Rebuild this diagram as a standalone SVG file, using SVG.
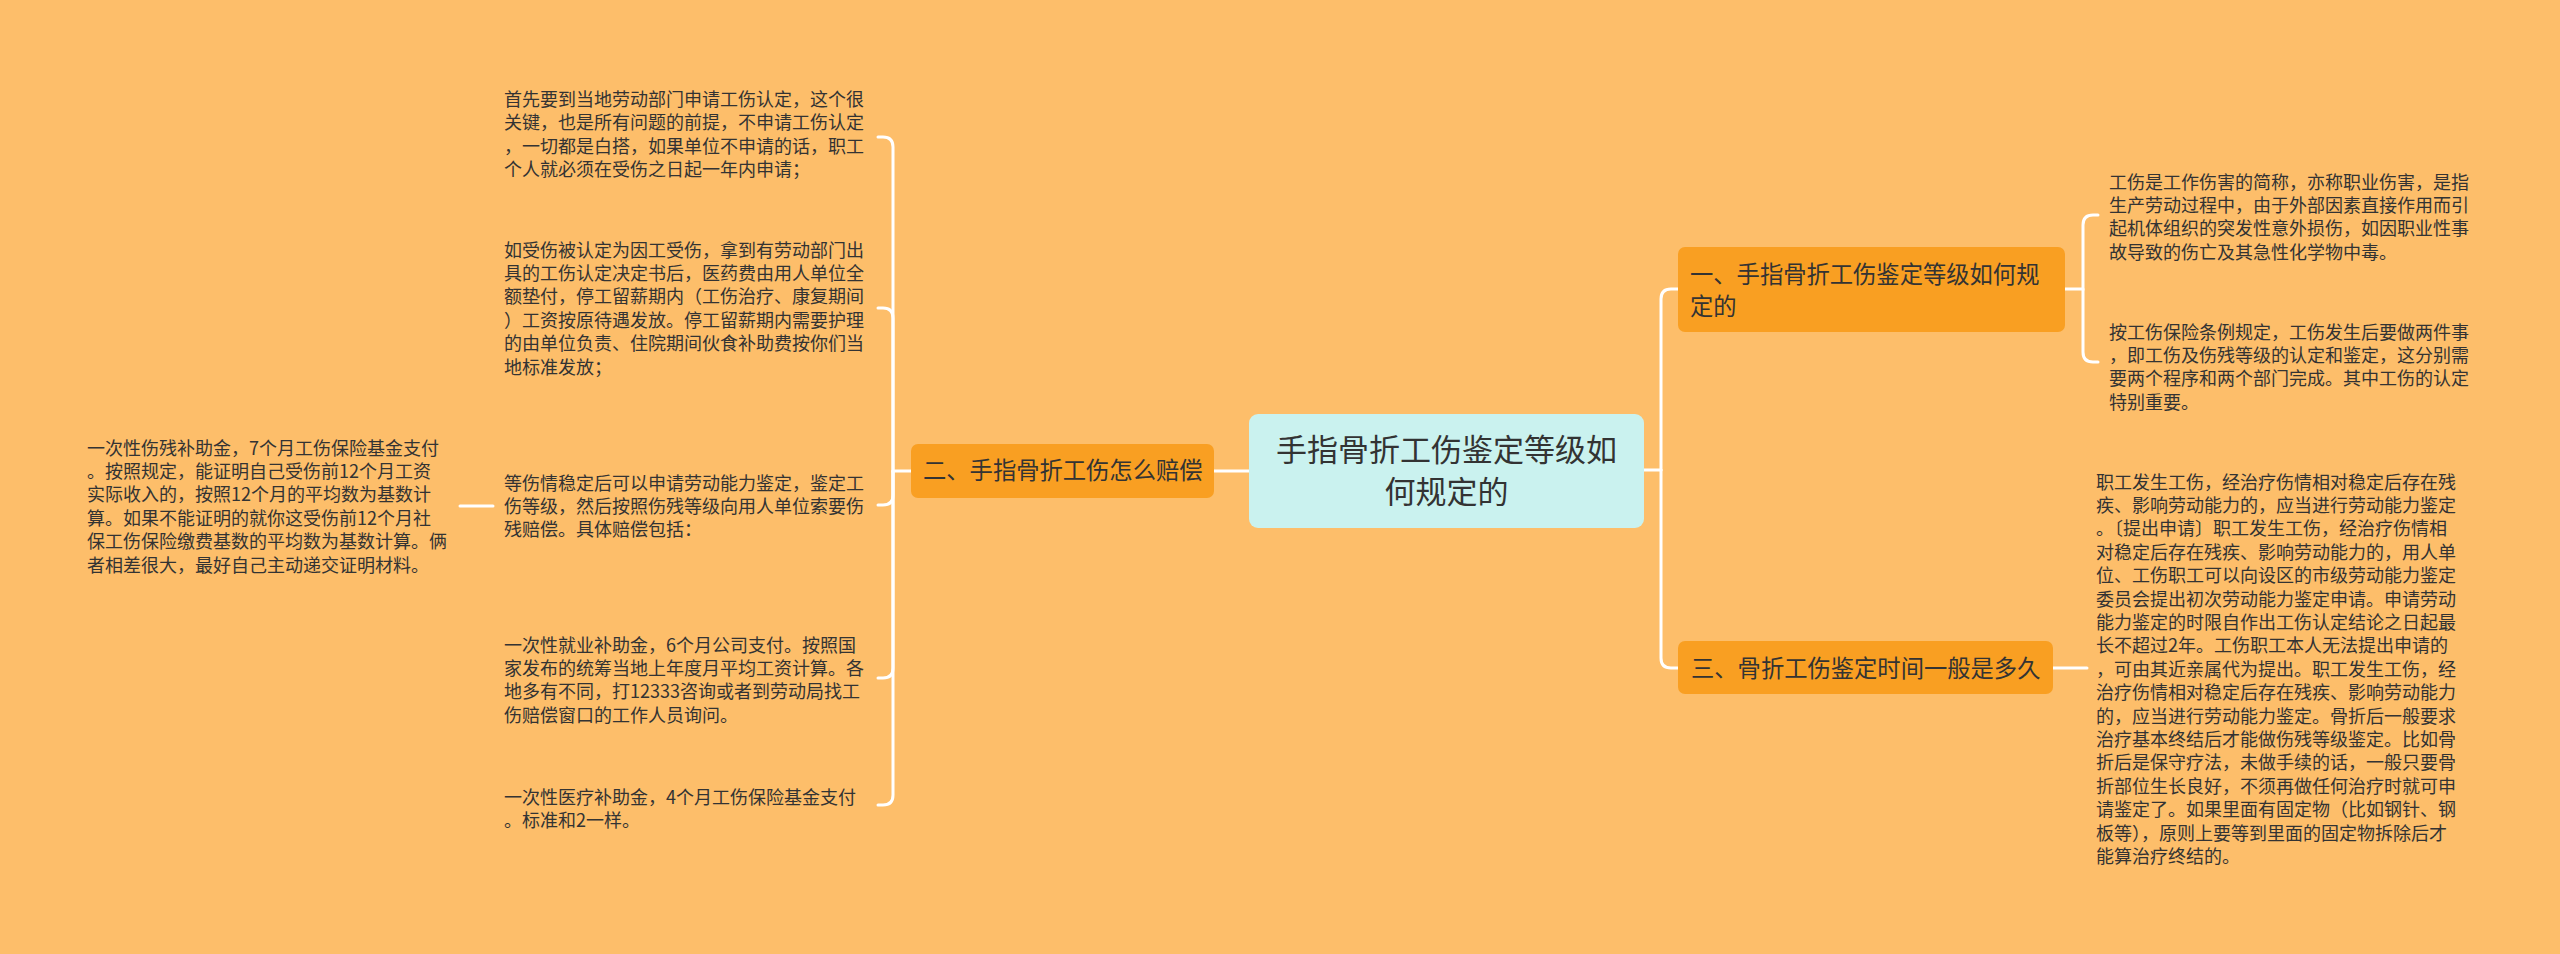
<svg xmlns="http://www.w3.org/2000/svg" width="2560" height="954" viewBox="0 0 2560 954">
<defs>
<style>
.bg{fill:#fdbe6a}
.lnk{fill:none;stroke:#ffffff;stroke-width:3;stroke-linecap:round}
.topic{fill:#f99f22}
.root{fill:#caf2ef}
.t{font-family:"Noto Sans CJK SC","Noto Sans",sans-serif;fill:#333333}
.b{font-size:18px}
.m{font-size:23.3px}
.r{font-size:31px}
</style>
</defs>
<rect class="bg" x="0" y="0" width="2560" height="954"/>
<g id="connectors">
<path class="lnk" d="M1249,471 H1214"/>
<path class="lnk" d="M911,471 H893 V147 Q893,137 883,137 H878"/>
<path class="lnk" d="M893,471 V318 Q893,308 883,308 H878"/>
<path class="lnk" d="M893,471 V495 Q893,505 883,505 H878"/>
<path class="lnk" d="M893,471 V668 Q893,678 883,678 H878"/>
<path class="lnk" d="M893,471 V795 Q893,805 883,805 H878"/>
<path class="lnk" d="M493,506 H460"/>
<path class="lnk" d="M1644,470 H1661"/>
<path class="lnk" d="M1661,470 V299 Q1661,289 1671,289 H1678"/>
<path class="lnk" d="M1661,470 V658 Q1661,668 1671,668 H1678"/>
<path class="lnk" d="M2065,289 H2083 V225 Q2083,215 2093,215 H2098"/>
<path class="lnk" d="M2083,289 V352 Q2083,362 2093,362 H2098"/>
<path class="lnk" d="M2053,668 H2087"/>
</g>
<g id="root">
<rect class="root" x="1249" y="414" width="395" height="114" rx="9"/>
<text class="t r" text-anchor="middle"><tspan x="1446.5" y="461">手指骨折工伤鉴定等级如</tspan><tspan x="1446.5" y="503">何规定的</tspan></text>
</g>
<g id="node-2">
<rect class="topic" x="911" y="444" width="303" height="54" rx="7"/>
<text class="t m" x="923" y="479">二、手指骨折工伤怎么赔偿</text>
</g>
<g id="node-2-1">
<text class="t b"><tspan x="504" y="106">首先要到当地劳动部门申请工伤认定，这个很</tspan><tspan x="504" y="129.4">关键，也是所有问题的前提，不申请工伤认定</tspan><tspan x="504" y="152.8">，一切都是白搭，如果单位不申请的话，职工</tspan><tspan x="504" y="176.2">个人就必须在受伤之日起一年内申请；</tspan></text>
</g>
<g id="node-2-2">
<text class="t b"><tspan x="504" y="256.5">如受伤被认定为因工受伤，拿到有劳动部门出</tspan><tspan x="504" y="279.9">具的工伤认定决定书后，医药费由用人单位全</tspan><tspan x="504" y="303.3">额垫付，停工留薪期内（工伤治疗、康复期间</tspan><tspan x="504" y="326.7">）工资按原待遇发放。停工留薪期内需要护理</tspan><tspan x="504" y="350.1">的由单位负责、住院期间伙食补助费按你们当</tspan><tspan x="504" y="373.5">地标准发放；</tspan></text>
</g>
<g id="node-2-3">
<text class="t b"><tspan x="504" y="489.5">等伤情稳定后可以申请劳动能力鉴定，鉴定工</tspan><tspan x="504" y="512.9">伤等级，然后按照伤残等级向用人单位索要伤</tspan><tspan x="504" y="536.3">残赔偿。具体赔偿包括：</tspan></text>
</g>
<g id="node-2-3-1">
<text class="t b"><tspan x="87" y="454.5">一次性伤残补助金，7个月工伤保险基金支付</tspan><tspan x="87" y="477.9">。按照规定，能证明自己受伤前12个月工资</tspan><tspan x="87" y="501.3">实际收入的，按照12个月的平均数为基数计</tspan><tspan x="87" y="524.7">算。如果不能证明的就你这受伤前12个月社</tspan><tspan x="87" y="548.1">保工伤保险缴费基数的平均数为基数计算。俩</tspan><tspan x="87" y="571.5">者相差很大，最好自己主动递交证明材料。</tspan></text>
</g>
<g id="node-2-4">
<text class="t b"><tspan x="504" y="651.5">一次性就业补助金，6个月公司支付。按照国</tspan><tspan x="504" y="674.9">家发布的统筹当地上年度月平均工资计算。各</tspan><tspan x="504" y="698.3">地多有不同，打12333咨询或者到劳动局找工</tspan><tspan x="504" y="721.7">伤赔偿窗口的工作人员询问。</tspan></text>
</g>
<g id="node-2-5">
<text class="t b"><tspan x="504" y="803.5">一次性医疗补助金，4个月工伤保险基金支付</tspan><tspan x="504" y="826.9">。标准和2一样。</tspan></text>
</g>
<g id="node-1">
<rect class="topic" x="1678" y="247" width="387" height="85" rx="7"/>
<text class="t m"><tspan x="1690" y="283">一、手指骨折工伤鉴定等级如何规</tspan><tspan x="1690" y="315">定的</tspan></text>
</g>
<g id="node-1-1">
<text class="t b"><tspan x="2109" y="188.5">工伤是工作伤害的简称，亦称职业伤害，是指</tspan><tspan x="2109" y="211.9">生产劳动过程中，由于外部因素直接作用而引</tspan><tspan x="2109" y="235.3">起机体组织的突发性意外损伤，如因职业性事</tspan><tspan x="2109" y="258.7">故导致的伤亡及其急性化学物中毒。</tspan></text>
</g>
<g id="node-1-2">
<text class="t b"><tspan x="2109" y="338.5">按工伤保险条例规定，工伤发生后要做两件事</tspan><tspan x="2109" y="361.9">，即工伤及伤残等级的认定和鉴定，这分别需</tspan><tspan x="2109" y="385.3">要两个程序和两个部门完成。其中工伤的认定</tspan><tspan x="2109" y="408.7">特别重要。</tspan></text>
</g>
<g id="node-3">
<rect class="topic" x="1678" y="641" width="375" height="53" rx="7"/>
<text class="t m" x="1691" y="677">三、骨折工伤鉴定时间一般是多久</text>
</g>
<g id="node-3-1">
<text class="t b"><tspan x="2096" y="488.5">职工发生工伤，经治疗伤情相对稳定后存在残</tspan><tspan x="2096" y="511.9">疾、影响劳动能力的，应当进行劳动能力鉴定</tspan><tspan x="2096" y="535.3">。〔提出申请〕职工发生工伤，经治疗伤情相</tspan><tspan x="2096" y="558.7">对稳定后存在残疾、影响劳动能力的，用人单</tspan><tspan x="2096" y="582.1">位、工伤职工可以向设区的市级劳动能力鉴定</tspan><tspan x="2096" y="605.5">委员会提出初次劳动能力鉴定申请。申请劳动</tspan><tspan x="2096" y="628.9">能力鉴定的时限自作出工伤认定结论之日起最</tspan><tspan x="2096" y="652.3">长不超过2年。工伤职工本人无法提出申请的</tspan><tspan x="2096" y="675.7">，可由其近亲属代为提出。职工发生工伤，经</tspan><tspan x="2096" y="699.1">治疗伤情相对稳定后存在残疾、影响劳动能力</tspan><tspan x="2096" y="722.5">的，应当进行劳动能力鉴定。骨折后一般要求</tspan><tspan x="2096" y="745.9">治疗基本终结后才能做伤残等级鉴定。比如骨</tspan><tspan x="2096" y="769.3">折后是保守疗法，未做手续的话，一般只要骨</tspan><tspan x="2096" y="792.7">折部位生长良好，不须再做任何治疗时就可申</tspan><tspan x="2096" y="816.1">请鉴定了。如果里面有固定物（比如钢针、钢</tspan><tspan x="2096" y="839.5">板等），原则上要等到里面的固定物拆除后才</tspan><tspan x="2096" y="862.9">能算治疗终结的。</tspan></text>
</g>
</svg>
